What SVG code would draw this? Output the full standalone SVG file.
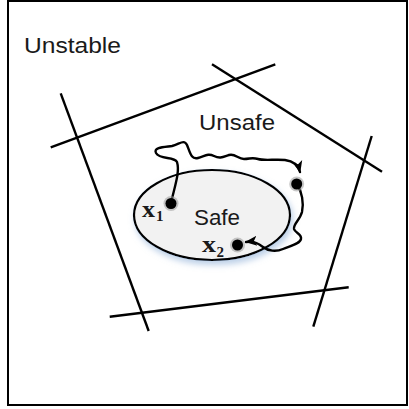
<svg xmlns="http://www.w3.org/2000/svg" width="409" height="409" viewBox="0 0 409 409">
<style>
.lbl{font-family:"Liberation Sans","Noto Sans",Arial,sans-serif;font-size:22px;fill:#1a1a1a}
.var{font-family:"Liberation Serif","Times New Roman",serif;font-weight:bold;fill:#1a1a1a}
.bd{stroke:#000;stroke-width:2.4;fill:none;stroke-linecap:butt}
.wave{stroke:#000;stroke-width:2.4;fill:none;stroke-linecap:round;stroke-linejoin:round}
.halo{fill:#9a9a9a;opacity:0.55}
.dot{fill:#000}
</style>
<defs>
<marker id="arr" viewBox="0 0 12 12" refX="11" refY="6" markerWidth="12" markerHeight="12" markerUnits="userSpaceOnUse" orient="auto">
<path d="M0,1 L12,6 L0,11 L3,6 Z" fill="#000"/>
</marker>
<filter id="glow" x="-30%" y="-30%" width="160%" height="170%">
<feGaussianBlur in="SourceAlpha" stdDeviation="3"/>
<feOffset dx="2" dy="4" result="b"/>
<feFlood flood-color="#8fb0d8" flood-opacity="0.6"/>
<feComposite in2="b" operator="in"/>
<feMerge><feMergeNode/><feMergeNode in="SourceGraphic"/></feMerge>
</filter>
</defs>
<g id="frame">
<rect x="8" y="1" width="399" height="404" fill="#fff" stroke="#000" stroke-width="2"/>
<text class="lbl" x="24" y="53" textLength="97" lengthAdjust="spacingAndGlyphs">Unstable</text>
</g>
<g id="unsafe-region">
<line class="bd" x1="50.7" y1="147.3" x2="275.3" y2="64.3"/>
<line class="bd" x1="212" y1="64.3" x2="382" y2="171.7"/>
<line class="bd" x1="371.7" y1="136" x2="313.3" y2="326.7"/>
<line class="bd" x1="348.7" y1="287.3" x2="109.7" y2="316.7"/>
<line class="bd" x1="60.7" y1="93.3" x2="148.7" y2="331"/>
<text class="lbl" x="199" y="130" textLength="76" lengthAdjust="spacingAndGlyphs">Unsafe</text>
</g>
<g id="safe">
<ellipse cx="212" cy="215" rx="78" ry="45" fill="#f2f2f2" stroke="#000" stroke-width="2.2" filter="url(#glow)"/>
<text class="lbl" x="194" y="225" textLength="46" lengthAdjust="spacingAndGlyphs">Safe</text>
</g>
<g id="connectors">
<path class="wave" marker-end="url(#arr)" d="M171,203 C175,185 180,172 177,162 C174,156 160,160 156,153 C153,147 165,147 172,146 C180,144 184,139 187,145 C190,152 191,160 198,158 C205,156 208,153 214,156 C220,159 223,157 229,155 C235,153 238,159 244,159 C250,159 252,157 258,159 C264,161 275,159 285,160 C293,161 298,164 300,172"/>
<path class="wave" marker-end="url(#arr)" d="M297,184 C302,192 304,203 302,212 C300,220 293,224 294,229 C295,233 302,234 301,239 C300,244 290,246 283,249 C276,252 268,251 263,247 C259,244 255,241 246,242"/>
</g>
<g id="x1">
<circle class="halo" cx="171" cy="203.5" r="7.5"/>
<circle class="dot" cx="171" cy="203.5" r="5.5"/>
<text class="var" x="142" y="216.7" font-size="24" textLength="13" lengthAdjust="spacingAndGlyphs">x</text>
<text class="var" x="156" y="221" font-size="15">1</text>
</g>
<g id="mid">
<circle class="halo" cx="296.7" cy="184" r="7.5"/>
<circle class="dot" cx="296.7" cy="184" r="5.5"/>
</g>
<g id="x2">
<circle class="halo" cx="237.5" cy="245" r="7.5"/>
<circle class="dot" cx="237.5" cy="245" r="5.5"/>
<text class="var" x="202" y="252" font-size="24" textLength="14" lengthAdjust="spacingAndGlyphs">x</text>
<text class="var" x="216.5" y="257" font-size="15">2</text>
</g>
</svg>
